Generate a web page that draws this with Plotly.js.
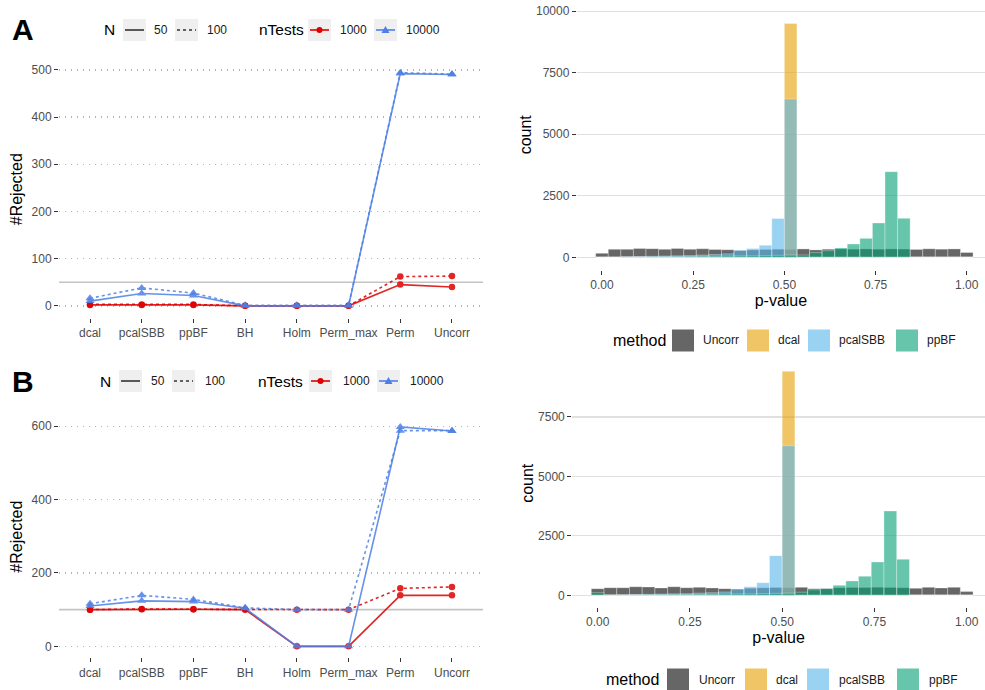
<!DOCTYPE html>
<html><head><meta charset="utf-8">
<script src="https://cdn.plot.ly/plotly-3.0.1.min.js"></script>
<style>html,body{margin:0;padding:0;background:#fff}#chart{width:985px;height:690px}</style>
</head><body><div id="chart"></div>
<script>
// ---------- data: line panels ----------
const categories = ['dcal','pcalSBB','ppBF','BH','Holm','Perm_max','Perm','Uncorr'];
const A_N50_T1000   = [2, 2, 2, 0, 0, 0, 45, 40];
const A_N100_T1000  = [3, 3, 3, 0, 0, 0, 62, 63];
const A_N50_T10000  = [10, 26, 22, 0, 0, 0, 492, 490];
const A_N100_T10000 = [16, 38, 27, 1, 1, 1, 494, 491];
const B_N50_T1000   = [100, 101, 101, 100, 0, 0, 139, 139];
const B_N100_T1000  = [100, 102, 101, 101, 100, 100, 158, 162];
const B_N50_T10000  = [110, 124, 122, 104, 0, 0, 598, 587];
const B_N100_T10000 = [116, 139, 128, 105, 100, 100, 588, 588];
const thresholdA = 50;
const thresholdB = 100;

// ---------- data: histograms (bin centres and counts) ----------
const binCenters = [0.0000,0.0345,0.0690,0.1034,0.1379,0.1724,0.2069,0.2414,0.2759,0.3103,
                    0.3448,0.3793,0.4138,0.4483,0.4828,0.5172,0.5517,0.5862,0.6207,0.6552,
                    0.6897,0.7241,0.7586,0.7931,0.8276,0.8621,0.8966,0.9310,0.9655,1.0000];
const methods = ['Uncorr','dcal','pcalSBB','ppBF'];
const histA_Uncorr  = [160,325,325,360,350,325,360,330,345,320,305,280,300,320,330,320,340,300,330,340,330,340,330,340,335,320,345,330,340,195];
const histA_dcal    = [0,0,0,0,0,0,0,0,0,0,0,0,0,0,0,9500,0,0,0,0,0,0,0,0,0,0,0,0,0,0];
const histA_pcalSBB = [0,0,20,30,40,50,60,70,90,110,140,290,360,490,1575,6430,0,0,0,0,0,0,0,0,0,0,0,0,0,0];
const histA_ppBF    = [0,0,10,15,20,25,30,35,40,45,50,55,60,70,80,90,95,190,270,380,540,770,1395,3480,1585,0,0,0,0,0];
const histB_Uncorr  = [280,320,320,360,350,310,360,320,335,310,280,260,300,320,330,320,335,280,290,320,330,330,340,330,320,295,335,310,335,155];
const histB_dcal    = [0,0,0,0,0,0,0,0,0,0,0,0,0,0,0,9420,0,0,0,0,0,0,0,0,0,0,0,0,0,0];
const histB_pcalSBB = [0,0,20,30,40,50,60,70,90,110,140,265,360,530,1665,6290,0,0,0,0,0,0,0,0,0,0,0,0,0,0];
const histB_ppBF    = [110,20,10,15,20,25,30,35,40,45,50,55,60,70,80,90,130,230,280,420,600,800,1400,3545,1515,0,0,0,0,0];
const pTickVals = [0, 0.25, 0.5, 0.75, 1];
const pTickText = ['0.00','0.25','0.50','0.75','1.00'];
const countTickVals = [0, 2500, 5000, 7500, 10000];
const countTickText = ['0', '2500', '5000', '7500', '10000'];

// ---------- styling ----------
const W = 985, H = 690;
const FONT = 'Liberation Sans, Arial, sans-serif';
const RED = '#DD0000', BLUE = '#4D7FE6';
const methodColors = {Uncorr:'rgba(0,0,0,0.6)', dcal:'rgba(230,159,0,0.6)', pcalSBB:'rgba(86,180,233,0.6)', ppBF:'rgba(0,158,115,0.6)'};
const methodKey = {Uncorr:'#666666', dcal:'#F0C566', pcalSBB:'#9AD2F2', ppBF:'#66C5AB'};

function px(x){ return x / W; }
function py(y){ return 1 - y / H; }

const traces = [];
function lineTrace(y, color, dash, symbol, xa, ya){
  return {type:'scatter', mode:'lines+markers', x:categories, y:y, xaxis:xa, yaxis:ya,
    line:{color:color, width:1.6, dash:dash}, opacity:0.85,
    marker:{color:color, size: symbol==='circle'?6.5:8, symbol:symbol},
    showlegend:false, hoverinfo:'x+y'};
}
traces.push(lineTrace(A_N50_T1000, RED, 'solid', 'circle', 'x', 'y'));
traces.push(lineTrace(A_N100_T1000, RED, 'dot', 'circle', 'x', 'y'));
traces.push(lineTrace(A_N50_T10000, BLUE, 'solid', 'triangle-up', 'x', 'y'));
traces.push(lineTrace(A_N100_T10000, BLUE, 'dot', 'triangle-up', 'x', 'y'));
traces.push(lineTrace(B_N50_T1000, RED, 'solid', 'circle', 'x2', 'y2'));
traces.push(lineTrace(B_N100_T1000, RED, 'dot', 'circle', 'x2', 'y2'));
traces.push(lineTrace(B_N50_T10000, BLUE, 'solid', 'triangle-up', 'x2', 'y2'));
traces.push(lineTrace(B_N100_T10000, BLUE, 'dot', 'triangle-up', 'x2', 'y2'));

const histA = {Uncorr:histA_Uncorr, dcal:histA_dcal, pcalSBB:histA_pcalSBB, ppBF:histA_ppBF};
const histB = {Uncorr:histB_Uncorr, dcal:histB_dcal, pcalSBB:histB_pcalSBB, ppBF:histB_ppBF};
function barTrace(m, vals, xa, ya){
  return {type:'bar', name:m, x:binCenters, y:vals, width:0.0345, xaxis:xa, yaxis:ya,
    marker:{color:methodColors[m], line:{color:'rgba(255,255,255,0.55)', width:0.6}},
    showlegend:false};
}
methods.forEach(m => traces.push(barTrace(m, histA[m], 'x3', 'y3')));
methods.forEach(m => traces.push(barTrace(m, histB[m], 'x4', 'y4')));

const tickFont = {family:FONT, size:12, color:'#4D4D4D'};
const titleFont = {family:FONT, size:16, color:'#000'};

function catAxis(domain, anchor){
  return {domain:domain, anchor:anchor, type:'category', categoryarray:categories,
    range:[-0.6, 7.6], showgrid:false, zeroline:false, showline:false,
    ticks:'outside', ticklen:4, tickwidth:1, tickcolor:'#333', tickfont:tickFont};
}
function lineYAxis(domain, anchor, range, dtick){
  return {domain:domain, anchor:anchor, range:range, dtick:dtick, tick0:0,
    showgrid:true, gridcolor:'#B4B4B4', gridwidth:1.4, griddash:'1.4px,4.6px', zeroline:false, showline:false,
    ticks:'outside', ticklen:4, tickwidth:1, tickcolor:'#333', tickfont:tickFont,
    title:{text:'#Rejected', font:titleFont, standoff:4}};
}
function pAxis(domain, anchor, range){
  return {domain:domain, anchor:anchor, range:range, tickvals:pTickVals, ticktext:pTickText,
    showgrid:false, zeroline:false, showline:false,
    ticks:'outside', ticklen:4, tickwidth:1, tickcolor:'#333', tickfont:tickFont,
    title:{text:'p-value', font:titleFont, standoff:2}};
}
function countAxis(domain, anchor, range){
  return {domain:domain, anchor:anchor, range:range, tickvals:countTickVals, ticktext:countTickText,
    showgrid:true, gridcolor:'#E0E0E0', gridwidth:1.2, zeroline:false, showline:false,
    ticks:'outside', ticklen:4, tickwidth:1, tickcolor:'#333', tickfont:tickFont,
    title:{text:'count', font:titleFont, standoff:0}};
}

const shapes = [];
const annotations = [];
// threshold reference lines
shapes.push({type:'line', xref:'x domain', yref:'y', x0:0, x1:1, y0:thresholdA, y1:thresholdA, line:{color:'#C4C4C4', width:1.6}, layer:'below'});
shapes.push({type:'line', xref:'x2 domain', yref:'y2', x0:0, x1:1, y0:thresholdB, y1:thresholdB, line:{color:'#C4C4C4', width:1.6}, layer:'below'});

function txt(x, y, text, font, anchor){
  annotations.push({xref:'paper', yref:'paper', x:px(x), y:py(y), text:text, showarrow:false,
    xanchor:anchor||'left', yanchor:'middle', font:font, borderpad:0});
}
function keyBox(x0, x1, yc, fill){
  shapes.push({type:'rect', xref:'paper', yref:'paper', x0:px(x0), x1:px(x1), y0:py(yc+11), y1:py(yc-11),
    fillcolor:fill||'#EFEFEF', line:{width:0}, layer:'above'});
}
function keyLine(x0, x1, yc, color, dash){
  shapes.push({type:'line', xref:'paper', yref:'paper', x0:px(x0+2), x1:px(x1-2), y0:py(yc), y1:py(yc),
    line:{color:color, width:1.6, dash:dash}, layer:'above'});
}
function keyCircle(xc, yc, color){
  shapes.push({type:'circle', xref:'paper', yref:'paper', x0:px(xc-3), x1:px(xc+3), y0:py(yc+3), y1:py(yc-3),
    fillcolor:color, line:{width:0}, layer:'above'});
}
function keyTri(xc, yc, color){
  shapes.push({type:'path', xref:'paper', yref:'paper',
    path:'M '+px(xc-4)+','+py(yc+3)+' L '+px(xc+4)+','+py(yc+3)+' L '+px(xc)+','+py(yc-4)+' Z',
    fillcolor:color, line:{width:0}, layer:'above'});
}
const legTitleFont = {family:FONT, size:15.5, color:'#000'};
const legFont = {family:FONT, size:12, color:'#1A1A1A'};
function lineLegend(yc, pos){
  txt(pos.N, yc, 'N', legTitleFont);
  keyBox(pos.k1, pos.k1+23, yc); keyLine(pos.k1, pos.k1+23, yc, '#333', 'solid');
  txt(pos.t1, yc, '50', legFont);
  keyBox(pos.k2, pos.k2+23, yc); keyLine(pos.k2, pos.k2+23, yc, '#333', 'dot');
  txt(pos.t2, yc, '100', legFont);
  txt(pos.nT, yc, 'nTests', legTitleFont);
  keyBox(pos.k3, pos.k3+23, yc); keyLine(pos.k3, pos.k3+23, yc, RED, 'solid'); keyCircle(pos.k3+11.5, yc, RED);
  txt(pos.t3, yc, '1000', legFont);
  keyBox(pos.k4, pos.k4+23, yc); keyLine(pos.k4, pos.k4+23, yc, BLUE, 'solid'); keyTri(pos.k4+11.5, yc, BLUE);
  txt(pos.t4, yc, '10000', legFont);
}
lineLegend(30, {N:103, k1:123, t1:153, k2:175, t2:206, nT:258, k3:308, t3:339, k4:374, t4:405});
lineLegend(381, {N:99, k1:119, t1:150, k2:172, t2:204, nT:257, k3:309, t3:342, k4:377, t4:409});

function methodLegend(yc, pos){
  txt(pos.title, yc, 'method', {family:FONT, size:16, color:'#000'});
  methods.forEach((m, i) => {
    keyBox(pos.keys[i], pos.keys[i]+22, yc, methodKey[m]);
    txt(pos.labels[i], yc, m, legFont);
  });
}
methodLegend(340.5, {title:612, keys:[672,747,808,896], labels:[702,777,838,926]});
methodLegend(679.5, {title:605, keys:[667,745,807,897], labels:[698,775,838,928]});

// panel letters
txt(11, 30, '<b>A</b>', {family:FONT, size:30, color:'#000'});
txt(11, 381, '<b>B</b>', {family:FONT, size:30, color:'#000'});

const layout = {
  width:W, height:H, margin:{l:0, r:0, t:0, b:0},
  paper_bgcolor:'#fff', plot_bgcolor:'rgba(0,0,0,0)',
  showlegend:false, barmode:'overlay', bargap:0,
  font:{family:FONT},
  xaxis: catAxis([59/W, 483/W], 'y'),
  yaxis: lineYAxis([py(317.5), py(61)], 'x', [-24.7, 518.7], 100),
  xaxis2: catAxis([59/W, 483/W], 'y2'),
  yaxis2: lineYAxis([py(657.3), py(416)], 'x2', [-29.9, 627.9], 200),
  xaxis3: pAxis([576.8/W, 1], 'y3', [-0.069, 1.050]),
  yaxis3: countAxis([py(269.5), 1], 'x3', [-496, 10459]),
  xaxis4: pAxis([572.2/W, 1], 'y4', [-0.069, 1.0496]),
  yaxis4: countAxis([py(606.5), py(360)], 'x4', [-471, 9893]),
  shapes:shapes, annotations:annotations
};
Plotly.newPlot('chart', traces, layout, {staticPlot:true, displayModeBar:false});
</script></body></html>
